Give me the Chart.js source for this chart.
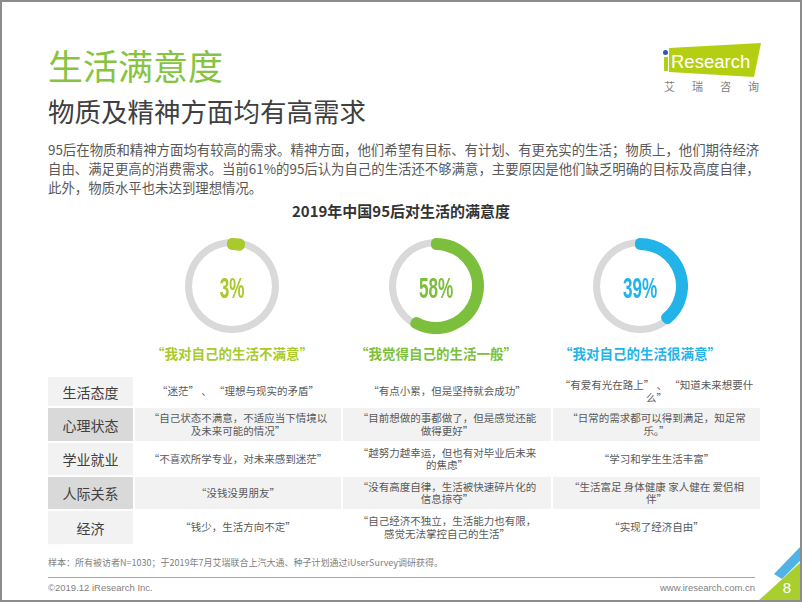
<!DOCTYPE html>
<html lang="zh-CN">
<head>
<meta charset="utf-8">
<script src="https://cdn.jsdelivr.net/npm/chart.js@4.4.0/dist/chart.umd.min.js"></script>
<style>
  html, body { margin: 0; padding: 0; }
  body {
    width: 802px; height: 602px; position: relative; overflow: hidden; background: #fff;
    font-family: "Noto Sans CJK SC", "Noto Sans", sans-serif;
  }
  .abs { position: absolute; }
  .frame { left: 0; top: 0; width: 802px; height: 602px; box-sizing: border-box; border: 2px solid #8c8c8c; z-index: 9; }
  .title { left: 48px; top: 47px; font-size: 35px; line-height: 35px; color: #86c440; white-space: nowrap; }
  .subtitle { left: 48px; top: 98px; font-size: 26.5px; line-height: 26.5px; color: #404040; white-space: nowrap; }
  .intro { left: 48px; top: 140px; font-size: 13.4px; line-height: 19px; color: #595959; white-space: nowrap; }
  .chart-title { left: 0; width: 802px; top: 203px; text-align: center; font-size: 15px; line-height: 15px; font-weight: bold; color: #333; }

  .ring { width: 96px; height: 96px; top: 238px; }
  #ring0 { left: 184px; }
  #ring1 { left: 388px; }
  #ring2 { left: 592px; }
  .ring canvas { position: absolute; }
  .ring .track { left: 1px; top: 1px; }
  .ring .arc { left: 0; top: 0; }
  .ring .pct {
    position: absolute; left: 0; top: 2px; width: 96px; line-height: 96px; text-align: center;
    font-family: "Liberation Sans", sans-serif; font-size: 30px; font-weight: bold;
    transform: scaleX(0.57);
  }
  .ring-label { top: 346px; width: 200px; text-align: center; font-size: 13.5px; line-height: 15px; font-weight: bold; white-space: nowrap; }

  #grid {
    left: 48px; top: 377px;
    display: grid; grid-template-columns: 85px 206px 208px 207px; grid-template-rows: 29px 33px 32px 32px 33px;
    gap: 2px;
  }
  #grid div { display: flex; align-items: center; justify-content: center; text-align: center; white-space: pre-line; }
  #grid .head { font-size: 14px; color: #404040; }
  #grid .cell { font-size: 10.5px; line-height: 12.5px; color: #595959; }

  .foot-note { left: 48px; top: 557px; font-size: 9px; line-height: 12px; color: #7f7f7f; white-space: nowrap; }
  .foot-line { left: 48px; top: 577px; width: 707px; height: 1px; background: #a6a6a6; }
  .copy { left: 48px; top: 582px; font-family: "Liberation Sans", sans-serif; font-size: 9.5px; line-height: 12px; color: #7f7f7f; }
  .site { right: 47px; top: 582px; font-family: "Liberation Sans", sans-serif; font-size: 9.5px; line-height: 12px; color: #7f7f7f; }
  .deco-blue { left: 0; top: 0; width: 802px; height: 602px; background: #4fb3e6; clip-path: polygon(774px 574px, 802px 545px, 802px 559px, 782px 579px); }
  .deco-green { left: 0; top: 0; width: 802px; height: 602px; background: linear-gradient(160deg, #7cc242 0%, #a9cf2e 100%); clip-path: polygon(757px 602px, 802px 561px, 802px 602px); }
  .page-no { left: 780px; top: 580px; width: 14px; text-align: center; font-family: "Liberation Sans", sans-serif; font-size: 15px; line-height: 16px; color: #fff; }

  .logo-box { left: 0; top: 0; width: 802px; height: 602px; background: #b4cf12; clip-path: polygon(669px 48px, 761px 43px, 754px 77px, 669px 72px); }
  .logo-stem { left: 664px; top: 57px; width: 4px; height: 14px; background: #b4cf12; }
  .logo-dot { left: 663px; top: 50px; width: 5px; height: 5px; border-radius: 50%; background: #2e5aa8; }
  .logo-text { left: 671px; top: 51px; font-family: "Liberation Sans", sans-serif; font-size: 18.5px; line-height: 21px; color: #fff; }
  .logo-cn { left: 664px; top: 80px; font-size: 11px; line-height: 13px; color: #808080; letter-spacing: 17px; white-space: nowrap; }
</style>
</head>
<body>
<div class="abs title">生活满意度</div>
<div class="abs subtitle">物质及精神方面均有高需求</div>
<div class="abs intro">95后在物质和精神方面均有较高的需求。精神方面，他们希望有目标、有计划、有更充实的生活；物质上，他们期待经济<br>自由、满足更高的消费需求。当前61%的95后认为自己的生活还不够满意，主要原因是他们缺乏明确的目标及高度自律，<br>此外，物质水平也未达到理想情况。</div>

<div class="abs logo-box"></div>
<div class="abs logo-stem"></div>
<div class="abs logo-dot"></div>
<div class="abs logo-text">Research</div>
<div class="abs logo-cn">艾瑞咨询</div>

<div class="abs chart-title">2019年中国95后对生活的满意度</div>

<div class="abs ring" id="ring0"><canvas class="track" width="94" height="94"></canvas><canvas class="arc" width="96" height="96"></canvas><div class="pct"></div></div>
<div class="abs ring" id="ring1"><canvas class="track" width="94" height="94"></canvas><canvas class="arc" width="96" height="96"></canvas><div class="pct"></div></div>
<div class="abs ring" id="ring2"><canvas class="track" width="94" height="94"></canvas><canvas class="arc" width="96" height="96"></canvas><div class="pct"></div></div>
<div class="abs ring-label" id="label0" style="left:132px"></div>
<div class="abs ring-label" id="label1" style="left:336px"></div>
<div class="abs ring-label" id="label2" style="left:540px"></div>

<div class="abs" id="grid"></div>

<div class="abs foot-note">样本：所有被访者N=1030；于2019年7月艾瑞联合上汽大通、种子计划通过iUserSurvey调研获得。</div>
<div class="abs foot-line"></div>
<div class="abs copy">©2019.12 iResearch Inc.</div>
<div class="abs site">www.iresearch.com.cn</div>
<div class="abs deco-blue"></div>
<div class="abs deco-green"></div>
<div class="abs page-no">8</div>
<div class="abs frame"></div>

<script>
// 2019年中国95后对生活的满意度
const categories = ['“我对自己的生活不满意”', '“我觉得自己的生活一般”', '“我对自己的生活很满意”'];
const satisfaction = [3, 58, 39];
const ringColors = ['#a8ca2c', '#7cbf3c', '#22b4e8'];
const trackColor = '#d9d9d9';

// table below the rings
const rowLabels = ['生活态度', '心理状态', '学业就业', '人际关系', '经济'];
const unsatisfiedNotes = [
    '“迷茫” 、 “理想与现实的矛盾”',
    '“自己状态不满意，不适应当下情境以\n及未来可能的情况”',
    '“不喜欢所学专业，对未来感到迷茫”',
    '“没钱没男朋友”',
    '“钱少，生活方向不定”'
];
const averageNotes = [
    '“有点小累，但是坚持就会成功”',
    '“目前想做的事都做了，但是感觉还能\n做得更好”',
    '“越努力越幸运，但也有对毕业后未来\n的焦虑”',
    '“没有高度自律，生活被快速碎片化的\n信息掠夺”',
    '“自己经济不独立，生活能力也有限，\n感觉无法掌控自己的生活”'
];
const satisfiedNotes = [
    '“有爱有光在路上” 、 “知道未来想要什\n么”',
    '“日常的需求都可以得到满足，知足常\n乐。”',
    '“学习和学生生活丰富”',
    '“生活富足 身体健康 家人健在 爱侣相\n伴”',
    '“实现了经济自由”'
];

const quiet = {
    responsive: false,
    animation: false,
    events: [],
    plugins: { legend: { display: false }, tooltip: { enabled: false } }
};

function makeRing(i) {
    const box = document.getElementById('ring' + i);

    // thin grey track
    new Chart(box.querySelector('.track'), {
        type: 'doughnut',
        data: { datasets: [{ data: [100], backgroundColor: trackColor, borderWidth: 0 }] },
        options: Object.assign({ cutout: 40 }, quiet)
    });

    // coloured arc, round ends come from the thick round-joined border
    new Chart(box.querySelector('.arc'), {
        type: 'doughnut',
        data: {
            labels: [categories[i], ''],
            datasets: [{
                data: [satisfaction[i], 100 - satisfaction[i]],
                backgroundColor: [ringColors[i], 'rgba(0,0,0,0)'],
                borderColor: [ringColors[i], 'rgba(0,0,0,0)'],
                borderWidth: [10, 0],
                borderJoinStyle: 'round'
            }]
        },
        options: Object.assign({ cutout: 41 }, quiet)
    });

    const pct = box.querySelector('.pct');
    pct.textContent = satisfaction[i] + '%';
    pct.style.color = ringColors[i];

    const label = document.getElementById('label' + i);
    label.textContent = categories[i];
    label.style.color = ringColors[i];
}

function buildTable() {
    const grid = document.getElementById('grid');
    const headBg = ['#f2f2f2', '#d9d9d9'];
    const cellBg = ['#ffffff', '#f2f2f2'];
    rowLabels.forEach((name, r) => {
        const head = document.createElement('div');
        head.className = 'head';
        head.textContent = name;
        head.style.background = headBg[r % 2];
        grid.appendChild(head);
        [unsatisfiedNotes, averageNotes, satisfiedNotes].forEach(col => {
            const cell = document.createElement('div');
            cell.className = 'cell';
            cell.textContent = col[r];
            cell.style.background = cellBg[r % 2];
            grid.appendChild(cell);
        });
    });
}

for (let i = 0; i < satisfaction.length; i++) {
    makeRing(i);
}
buildTable();
</script>
</body>
</html>
